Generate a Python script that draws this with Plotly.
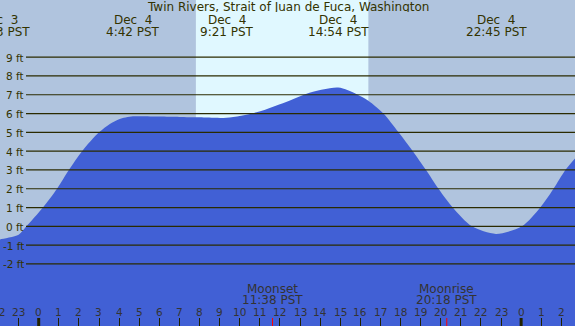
import plotly.graph_objects as go

# ---- data (hours relative to Dec 4 00:00 PST, heights in ft) ----
TIDE_HOURS = [-2.0, -1.94, -1.0, -0.61, 0.21, 0.91, 1.5, 2.16, 3.0, 3.54, 4.0, 4.69,
              6.0, 7.0, 8.0, 9.35, 10.84, 12.5, 13.33, 14.9, 15.82, 16.4, 17.15,
              17.9, 18.61, 19.27, 19.89, 20.6, 21.55, 22.75, 24.04, 24.95, 25.61,
              26.2, 26.75]
TIDE_FT = [-0.72, -0.70, -0.45, 0.0, 1.0, 2.0, 3.0, 4.0, 5.0, 5.45, 5.7, 5.85,
           5.84, 5.82, 5.8, 5.78, 6.07, 6.7, 7.06, 7.38, 7.03, 6.68, 6.0,
           5.0, 4.0, 3.0, 2.0, 1.0, 0.0, -0.4, 0.0, 1.0, 2.0,
           3.0, 3.7]

EXTREME_HOURS = [-1.95, 4.69, 9.35, 14.9, 22.75]
EXTREME_DATES = ["Dec  3", "Dec  4", "Dec  4", "Dec  4", "Dec  4"]
EXTREME_TIMES = ["21:53 PST", "4:42 PST", "9:21 PST", "14:54 PST", "22:45 PST"]

MOON_HOURS = [11.633, 20.3]
MOON_EVENTS = ["Moonset", "Moonrise"]
MOON_TIMES = ["11:38 PST", "20:18 PST"]

SUNRISE, SUNSET = 7.82, 16.40
FT_LEVELS = [-2, -1, 0, 1, 2, 3, 4, 5, 6, 7, 8, 9]
HOUR_TICKS = list(range(-2, 27))
MIDNIGHTS = [0, 24]

TITLE = "Twin Rivers, Strait of Juan de Fuca, Washington"

# ---- styling ----
W, H = 575, 326
X0, X1 = -1.925, 26.68
Y0, Y1 = -5.30, 12.04
NIGHT = "#b0c4de"
DAY = "#e0f8ff"
WATER = "#4160d5"
GRID = "#2b2b00"
TXT = "#333300"
FONT = "DejaVu Sans"


def ypx(py):
    return 1 - py / H


def xp(h):
    return (h - X0) / (X1 - X0)


fig = go.Figure()
# baseline for filling below the tide curve
fig.add_trace(go.Scatter(x=[TIDE_HOURS[0], TIDE_HOURS[-1]], y=[Y0 - 1, Y0 - 1],
                         mode="lines", line=dict(width=0), hoverinfo="skip",
                         showlegend=False))
fig.add_trace(go.Scatter(x=TIDE_HOURS, y=TIDE_FT, mode="lines",
                         line=dict(width=0, shape="spline", smoothing=0.8, color=WATER),
                         fill="tonexty", fillcolor=WATER, hoverinfo="skip",
                         showlegend=False))

# horizontal level lines drawn over the water
grid_start = X0 + 26 / W * (X1 - X0)
for lv in FT_LEVELS:
    fig.add_trace(go.Scatter(x=[grid_start, X1], y=[lv, lv], mode="lines",
                             line=dict(color=GRID, width=1.2), hoverinfo="skip",
                             showlegend=False))

# midnight and moon ticks
tick_len = 8 / H * (Y1 - Y0)
for m in MIDNIGHTS:
    fig.add_trace(go.Scatter(x=[m, m], y=[Y0, Y0 + tick_len], mode="lines",
                             line=dict(color="#222200", width=3), hoverinfo="skip",
                             showlegend=False))
for m in MOON_HOURS:
    fig.add_trace(go.Scatter(x=[m, m], y=[Y0, Y0 + tick_len], mode="lines",
                             line=dict(color="#ff0000", width=1), hoverinfo="skip",
                             showlegend=False))


def label(x, y, text, size=12, color=TXT, xanchor="center", xref="paper", yref="paper"):
    return dict(x=x, y=y, xref=xref, yref=yref, text=text, showarrow=False,
                font=dict(size=size, color=color, family=FONT), xanchor=xanchor,
                yanchor="middle", borderpad=0, height=int(size) - 1)


ann = [label(0.5, ypx(7), TITLE)]
for h, d, t in zip(EXTREME_HOURS, EXTREME_DATES, EXTREME_TIMES):
    ann.append(label(xp(h), ypx(19.5), d))
    ann.append(label(xp(h), ypx(32), t))
for h, e, t in zip(MOON_HOURS, MOON_EVENTS, MOON_TIMES):
    ann.append(label(xp(h), ypx(288), e, color="#333333"))
    ann.append(label(xp(h), ypx(299.5), t, color="#333333"))
for h in HOUR_TICKS:
    ann.append(label(xp(h), ypx(311.5), str(h % 24), size=10.5, color="#333333"))
for lv in FT_LEVELS:
    ann.append(label(24.5 / W, lv, f"{lv} ft", size=10.5, xanchor="right", yref="y"))

fig.update_layout(
    width=W, height=H, margin=dict(l=0, r=0, t=0, b=0),
    paper_bgcolor=NIGHT, plot_bgcolor=NIGHT,
    xaxis=dict(range=[X0, X1], showgrid=False, zeroline=False, showline=False,
               tickvals=HOUR_TICKS, ticks="inside", ticklen=8, tickwidth=1,
               tickcolor="#222200", showticklabels=False, fixedrange=True),
    yaxis=dict(range=[Y0, Y1], showgrid=False, zeroline=False, showline=False,
               showticklabels=False, ticks="", fixedrange=True),
    shapes=[dict(type="rect", xref="x", yref="paper", x0=SUNRISE, x1=SUNSET,
                 y0=0, y1=1, fillcolor=DAY, line=dict(width=0), layer="below")],
    annotations=ann,
    showlegend=False,
)
fig.write_html("out.html", config={"displayModeBar": False},
               post_script="document.body.style.margin='0';document.body.style.overflow='hidden';")
